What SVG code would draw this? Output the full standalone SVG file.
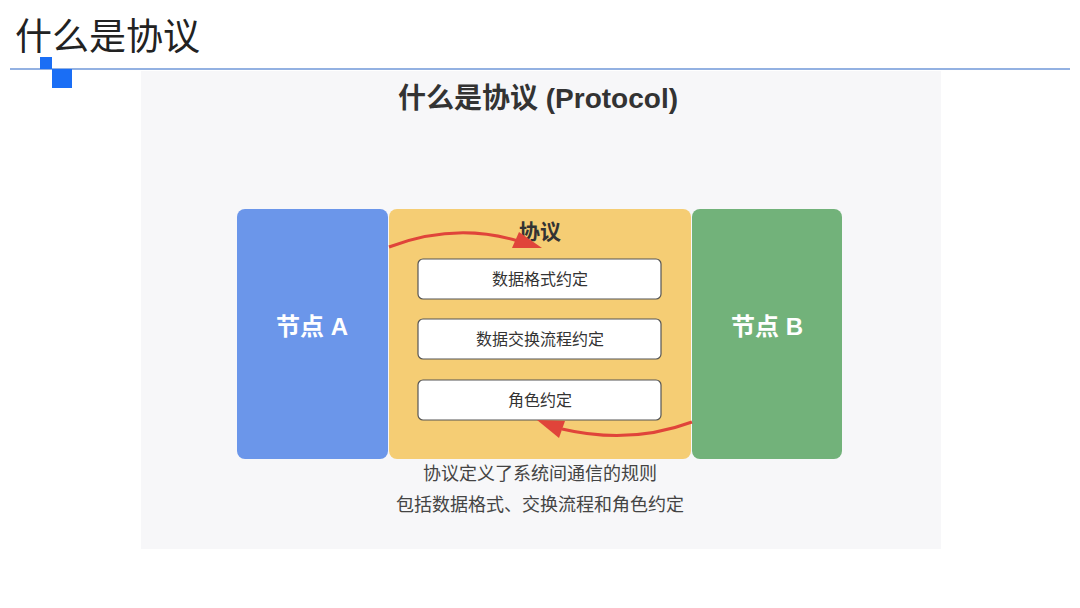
<svg xmlns="http://www.w3.org/2000/svg" width="1080" height="608" viewBox="0 0 1080 608">
<style>
.cjk{font-family:"Noto Sans CJK SC","Liberation Sans",sans-serif}
.node-t{font-family:"Liberation Sans","Noto Sans CJK SC",sans-serif;font-weight:bold;font-size:24px;fill:#fff;text-anchor:middle}
.box{fill:#fff;stroke:#555;stroke-width:1.2}
.box-t{font-family:"Noto Sans CJK SC",sans-serif;font-size:16px;fill:#333;text-anchor:middle}
.cap{font-family:"Noto Sans CJK SC",sans-serif;font-size:18px;fill:#444;text-anchor:middle}
.arr{fill:none;stroke:#e0443a;stroke-width:3}
.head{fill:#e0443a}
</style>
<rect width="1080" height="608" fill="#ffffff"/>
<text x="15" y="50" class="cjk" font-size="37" fill="#222">什么是协议</text>
<line x1="10" y1="69" x2="1070" y2="69" stroke="#6f97d8" stroke-width="1.5"/>
<rect x="40" y="57" width="12" height="12" fill="#1a6ef5"/>
<rect x="52" y="69" width="20" height="19" fill="#1a6ef5"/>
<rect x="141" y="71" width="800" height="478" fill="#f7f7f9"/>
<text x="538" y="108" font-family="Liberation Sans,'Noto Sans CJK SC',sans-serif" font-weight="bold" font-size="28" fill="#333" text-anchor="middle">什么是协议 (Protocol)</text>
<g id="protocol">
<rect x="389" y="209" width="302" height="250" rx="8" fill="#f5cd74"/>
<text x="540" y="239" font-family="Noto Sans CJK SC,sans-serif" font-weight="bold" font-size="21" fill="#333" text-anchor="middle">协议</text>
</g>
<g id="nodeA">
<rect x="237" y="209" width="151" height="250" rx="8" fill="#6b96ea"/>
<text x="312" y="335" class="node-t">节点 A</text>
</g>
<g id="nodeB">
<rect x="692" y="209" width="150" height="250" rx="8" fill="#72b27a"/>
<text x="767" y="335" class="node-t">节点 B</text>
</g>
<g id="format">
<rect x="418" y="259" width="243" height="40" rx="5" class="box"/>
<text x="540" y="285" class="box-t">数据格式约定</text>
</g>
<g id="flow">
<rect x="418" y="319" width="243" height="40" rx="5" class="box"/>
<text x="540" y="345" class="box-t">数据交换流程约定</text>
</g>
<g id="role">
<rect x="418" y="380" width="243" height="40" rx="5" class="box"/>
<text x="540" y="406" class="box-t">角色约定</text>
</g>
<g id="connectors">
<path class="arr" d="M389 247 Q455 222 518 241"/>
<polygon class="head" points="519,232 512,248 542,248"/>
<path class="arr" d="M692 422 Q630 445 562 429"/>
<polygon class="head" points="565,421 559,438 537,420"/>
</g>
<text x="540" y="480" class="cap">协议定义了系统间通信的规则</text>
<text x="540" y="511" class="cap">包括数据格式、交换流程和角色约定</text>
</svg>
